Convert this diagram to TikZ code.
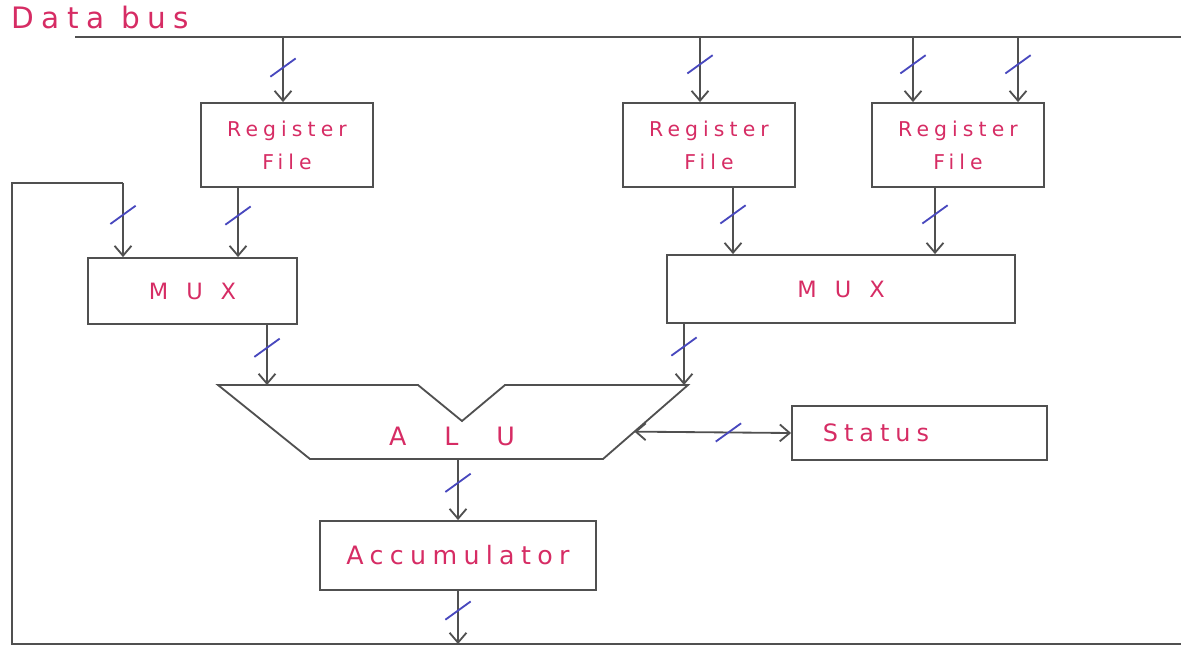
\documentclass[tikz,border=0pt]{standalone}
\usepackage{fontspec}
\usepackage{tikz}
\usetikzlibrary{arrows.meta,calc,positioning,decorations.markings}
\newfontfamily\handfont[LetterSpace=25]{DejaVu Sans}
\definecolor{inkred}{RGB}{214,44,100}
\definecolor{inkblue}{RGB}{72,72,190}
\definecolor{inkgray}{RGB}{80,80,80}

\begin{document}
\begin{tikzpicture}[x=0.025cm,y=-0.025cm,color=inkgray,line width=1.3pt,
  hand/.style={text=inkred,font=\handfont\fontsize{#1}{#1}\selectfont},
  blk/.style={draw,rectangle,inner sep=0pt,align=center,hand=14},
  arr/.style={-{Straight Barb[length=7pt,width=12pt]}},
  arrs/.style={{Straight Barb[length=7pt,width=12pt]}-{Straight Barb[length=7pt,width=12pt]}},
  slash/.style={-,draw=inkblue,line width=1.3pt},
  bus/.style={postaction={decorate,decoration={markings,mark=at position #1 with
    {\pgftransformresetnontranslations\draw[slash] (-9pt,-6.5pt) -- (9pt,6.5pt);}}}}]
\useasboundingbox (0,0) rectangle (1181,647);

% data bus
\node (dbus) [hand=21,anchor=west] at (6,17) {Data bus};
\coordinate (busL) at (75,37);
\coordinate (busR) at (1181,37);
\draw (busL) -- (busR);

% register files and muxes
\node (RF1) [blk,minimum width=4.3cm,minimum height=2.1cm,hand=14.5] at (287,145) {Register\\[9pt]File};
\node (RF2) [blk,minimum width=4.3cm,minimum height=2.1cm,hand=14.5] at (709,145) {Register\\[9pt]File};
\node (RF3) [blk,minimum width=4.3cm,minimum height=2.1cm,hand=14.5] at (958,145) {Register\\[9pt]File};
\node (MUX1) [blk,minimum width=5.225cm,minimum height=1.65cm,hand=16] at (192.5,291) {M\hspace{.8em}U\hspace{.8em}X};
\node (MUX2) [blk,minimum width=8.7cm,minimum height=1.7cm,hand=16] at (841,289) {M\hspace{.8em}U\hspace{.8em}X};
\node (Status) [blk,minimum width=6.375cm,minimum height=1.35cm,text width=4.825cm,align=left,hand=17] at (919.5,433) {Status};
\node (Acc) [blk,minimum width=6.9cm,minimum height=1.725cm,hand=18] at (458,555.5) {Accumulator};

% ALU outline
\coordinate (alutl) at (218,385);
\coordinate (alun1) at (418,385);
\coordinate (aluv) at (462,421);
\coordinate (alun2) at (505,385);
\coordinate (alutr) at (688,385);
\coordinate (alubr) at (603,459);
\coordinate (alubl) at (310,459);
\draw (alutl) -- (alun1) -- (aluv) -- (alun2) -- (alutr) -- (alubr) -- (alubl) -- cycle;
\node (ALU) [hand=18] at (452,436) {A\hspace{1.5em}L\hspace{1.5em}U};
\coordinate (alur) at ($(alutr)!0.63!(alubr)$);
\coordinate (aluout) at (Acc.north |- alubl);

% return path from accumulator
\coordinate (retL) at (12,644);
\coordinate (retR) at (1181,644);
\coordinate (retT) at (12,183);
\coordinate (fbin) at (123,183);
\draw (retR) -- (retL) -- (retT) -- (fbin);

% bus into register files
\coordinate (r1in) at ($(RF1.north)+(-4,0)$);
\coordinate (r2in) at ($(RF2.north)+(-9,0)$);
\coordinate (r3ina) at ($(RF3.north)+(-45,0)$);
\coordinate (r3inb) at ($(RF3.north)+(60,0)$);
\draw [arr,bus=.47] (r1in |- busL) -- (r1in);
\draw [arr,bus=.42] (r2in |- busL) -- (r2in);
\draw [arr,bus=.42] (r3ina |- busL) -- (r3ina);
\draw [arr,bus=.42] (r3inb |- busL) -- (r3inb);

% register files into muxes
\coordinate (r1out) at ($(RF1.south)+(-49,0)$);
\coordinate (r2out) at ($(RF2.south)+(24,0)$);
\coordinate (r3out) at ($(RF3.south)+(-23,0)$);
\draw [arr,bus=.43] (fbin) -- (fbin |- MUX1.north);
\draw [arr,bus=.4] (r1out) -- (r1out |- MUX1.north);
\draw [arr,bus=.4] (r2out) -- (r2out |- MUX2.north);
\draw [arr,bus=.4] (r3out) -- (r3out |- MUX2.north);

% muxes into ALU
\coordinate (m1out) at ($(MUX1.south)+(74.5,0)$);
\coordinate (m2out) at ($(MUX2.south)+(-157,0)$);
\draw [arr,bus=.38] (m1out) -- (m1out |- alutl);
\draw [arr,bus=.37] (m2out) -- (m2out |- alutr);

% ALU, status, accumulator
\draw [arrs,bus=.6] (alur) -- (Status.west);
\draw [arr,bus=.39] (aluout) -- (Acc.north);
\draw [arr,bus=.37] (Acc.south) -- (Acc.south |- retL);
\end{tikzpicture}
\end{document}
